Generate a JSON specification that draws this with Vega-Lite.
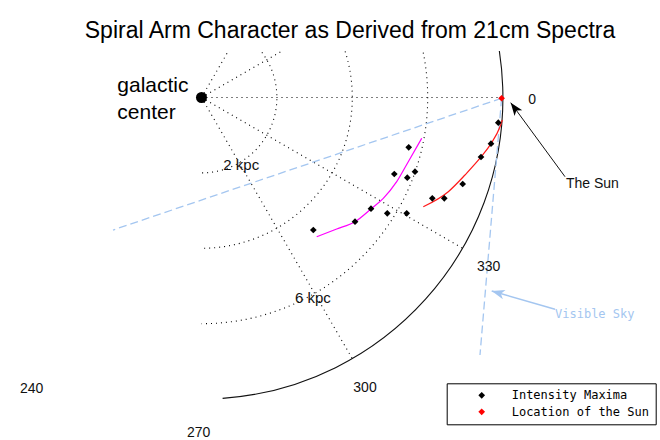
{
  "$schema": "https://vega.github.io/schema/vega-lite/v6.json",
  "width": 660,
  "height": 389,
  "autosize": {"type": "none"},
  "padding": {"left": 0, "top": 51, "right": 0, "bottom": 0},
  "background": "white",
  "config": {"view": {"stroke": null}},
  "title": {
    "text": "Spiral Arm Character as Derived from 21cm Spectra",
    "font": "Liberation Sans",
    "fontSize": 23,
    "fontWeight": "normal",
    "color": "#000",
    "anchor": "middle",
    "dx": 20,
    "baseline": "alphabetic",
    "offset": -10
  },
  "datasets": {
    "grid_arcs": [{"x": 0, "y": 0, "r": 2}, {"x": 0, "y": 0, "r": 4}, {"x": 0, "y": 0, "r": 6}],
    "grid_rays": [
      {"x": 0, "y": 0, "x2": 4, "y2": 6.928},
      {"x": 0, "y": 0, "x2": 6.928, "y2": 4},
      {"x": 0, "y": 0, "x2": 7.96, "y2": 0},
      {"x": 0, "y": 0, "x2": 6.928, "y2": -4},
      {"x": 0, "y": 0, "x2": 4, "y2": -6.928}
    ],
    "solar_circle": [{"x": 0, "y": 0, "r": 8}],
    "sky_lines": [
      {"x": 7.96, "y": -0.02, "x2": -2.347, "y2": -3.515},
      {"x": 7.96, "y": -0.02, "x2": 7.387, "y2": -6.83}
    ],
    "arm_magenta": [
      {"x": 3.056, "y": -3.692},
      {"x": 3.586, "y": -3.488},
      {"x": 4.072, "y": -3.294},
      {"x": 4.515, "y": -2.939},
      {"x": 4.822, "y": -2.674},
      {"x": 5.178, "y": -2.233},
      {"x": 5.485, "y": -1.703},
      {"x": 5.841, "y": -1.082}
    ],
    "arm_red": [
      {"x": 5.883, "y": -2.897},
      {"x": 6.546, "y": -2.499},
      {"x": 6.989, "y": -2.056},
      {"x": 7.414, "y": -1.578},
      {"x": 7.679, "y": -1.225},
      {"x": 7.918, "y": -0.775},
      {"x": 7.979, "y": -0.597}
    ],
    "maxima": [
      {"x": 2.966, "y": -3.515, "type": "Intensity Maxima"},
      {"x": 4.072, "y": -3.294, "type": "Intensity Maxima"},
      {"x": 4.496, "y": -2.95, "type": "Intensity Maxima"},
      {"x": 4.928, "y": -3.072, "type": "Intensity Maxima"},
      {"x": 5.443, "y": -3.072, "type": "Intensity Maxima"},
      {"x": 5.114, "y": -2.029, "type": "Intensity Maxima"},
      {"x": 5.459, "y": -2.127, "type": "Intensity Maxima"},
      {"x": 5.663, "y": -1.968, "type": "Intensity Maxima"},
      {"x": 5.496, "y": -1.321, "type": "Intensity Maxima"},
      {"x": 6.122, "y": -2.674, "type": "Intensity Maxima"},
      {"x": 6.44, "y": -2.674, "type": "Intensity Maxima"},
      {"x": 6.928, "y": -2.294, "type": "Intensity Maxima"},
      {"x": 7.414, "y": -1.578, "type": "Intensity Maxima"},
      {"x": 7.679, "y": -1.225, "type": "Intensity Maxima"},
      {"x": 7.873, "y": -0.668, "type": "Intensity Maxima"},
      {"x": 7.96, "y": -0.02, "type": "Location of the Sun"}
    ],
    "gc": [{"x": 0, "y": 0}],
    "sun_arrow": [{"x": 9.642, "y": -2.101, "x2": 8.202, "y2": -0.138}],
    "sun_tip": [{"x": 8.202, "y": -0.138}],
    "sky_arrow": [{"x": 9.377, "y": -5.618, "x2": 7.698, "y2": -5.133}],
    "sky_tip": [{"x": 7.698, "y": -5.133}],
    "labels_gc": [{"x": -2.233, "y": 0.138, "t": "galactic"}, {"x": -2.233, "y": -0.578, "t": "center"}],
    "labels_kpc": [{"x": 0.578, "y": -1.923, "t": "2 kpc"}, {"x": 2.48, "y": -5.443, "t": "6 kpc"}],
    "labels_lon": [
      {"x": 8.772, "y": -0.066, "t": "0"},
      {"x": 7.618, "y": -4.496, "t": "330"},
      {"x": 4.337, "y": -7.706, "t": "300"},
      {"x": -0.074, "y": -8.899, "t": "270"},
      {"x": -4.504, "y": -7.74, "t": "240"}
    ],
    "label_sun": [{"x": 9.668, "y": -2.408, "t": "The Sun"}],
    "label_sky": [{"x": 9.377, "y": -5.857, "t": "Visible Sky"}]
  },
  "encoding": {
    "x": {"field": "x", "type": "quantitative", "scale": {"domain": [-5.3448, 12.1618], "nice": false, "zero": false}, "axis": null},
    "y": {"field": "y", "type": "quantitative", "scale": {"domain": [-9.0849, 1.2334], "nice": false, "zero": false}, "axis": null}
  },
  "layer": [
    {
      "data": {"name": "grid_arcs"},
      "mark": {"type": "point", "shape": "M0,-1A1,1,0,0,1,0,1", "filled": false, "stroke": "#000", "strokeWidth": 1.1, "strokeDash": [1, 4], "opacity": 1, "clip": true},
      "encoding": {
        "size": {"field": "r", "type": "quantitative", "scale": {"type": "pow", "exponent": 2, "domain": [0, 8], "range": [0, 363850]}, "legend": null}
      }
    },
    {
      "data": {"name": "grid_rays"},
      "mark": {"type": "rule", "stroke": "#000", "strokeWidth": 1.1, "strokeDash": [1, 4], "clip": true},
      "encoding": {"x2": {"field": "x2"}, "y2": {"field": "y2"}}
    },
    {
      "data": {"name": "solar_circle"},
      "mark": {"type": "point", "shape": "M0,-1A1,1,0,0,1,0.07,0.9975", "filled": false, "stroke": "#111", "strokeWidth": 1.1, "opacity": 1, "clip": true},
      "encoding": {
        "size": {"field": "r", "type": "quantitative", "scale": {"type": "pow", "exponent": 2, "domain": [0, 8], "range": [0, 363850]}, "legend": null}
      }
    },
    {
      "data": {"name": "sky_lines"},
      "mark": {"type": "rule", "stroke": "#a4c6f0", "strokeWidth": 1.3, "strokeDash": [8, 4], "clip": true},
      "encoding": {"x2": {"field": "x2"}, "y2": {"field": "y2"}}
    },
    {
      "data": {"name": "arm_magenta"},
      "mark": {"type": "line", "color": "#ff00ff", "strokeWidth": 1.2, "interpolate": "monotone"},
      "encoding": {}
    },
    {
      "data": {"name": "arm_red"},
      "mark": {"type": "line", "color": "#ff1a1a", "strokeWidth": 1.2, "interpolate": "monotone"},
      "encoding": {}
    },
    {
      "data": {"name": "sun_arrow"},
      "mark": {"type": "rule", "stroke": "#111", "strokeWidth": 1},
      "encoding": {"x2": {"field": "x2"}, "y2": {"field": "y2"}}
    },
    {
      "data": {"name": "sun_tip"},
      "mark": {"type": "point", "shape": "M0,0L0.55,1.5L0,1.1L-0.55,1.5Z", "filled": true, "color": "#000", "opacity": 1, "size": 300, "angle": 323.7}
    },
    {
      "data": {"name": "sky_arrow"},
      "mark": {"type": "rule", "stroke": "#a4c6f0", "strokeWidth": 1.5},
      "encoding": {"x2": {"field": "x2"}, "y2": {"field": "y2"}}
    },
    {
      "data": {"name": "sky_tip"},
      "mark": {"type": "point", "shape": "M0,0L0.55,1.5L0,1.1L-0.55,1.5Z", "filled": true, "color": "#a4c6f0", "opacity": 1, "size": 300, "angle": 286.1}
    },
    {
      "data": {"name": "gc"},
      "mark": {"type": "point", "shape": "circle", "filled": true, "color": "#000", "opacity": 1, "size": 121}
    },
    {
      "data": {"name": "maxima"},
      "mark": {"type": "point", "shape": "diamond", "filled": true, "opacity": 1, "size": 45},
      "encoding": {
        "color": {
          "field": "type",
          "type": "nominal",
          "scale": {"domain": ["Intensity Maxima", "Location of the Sun"], "range": ["#000000", "#ff0000"]},
          "legend": {
            "title": null,
            "orient": "none",
            "legendX": 446.7,
            "legendY": 332.3,
            "strokeColor": "#000",
            "fillColor": "#fff",
            "padding": 6,
            "rowPadding": 4.5,
            "symbolOffset": 23,
            "labelOffset": 24,
            "labelFont": "DejaVu Sans Mono",
            "labelFontSize": 12,
            "labelColor": "#000",
            "symbolType": "diamond",
            "symbolSize": 45,
            "symbolStrokeWidth": 0
          }
        }
      }
    },
    {
      "data": {"name": "labels_gc"},
      "mark": {"type": "text", "font": "Liberation Sans", "fontSize": 21, "align": "left", "baseline": "alphabetic", "color": "#000"},
      "encoding": {"text": {"field": "t"}}
    },
    {
      "data": {"name": "labels_kpc"},
      "mark": {"type": "text", "font": "Liberation Sans", "fontSize": 15, "align": "left", "baseline": "alphabetic", "color": "#111"},
      "encoding": {"text": {"field": "t"}}
    },
    {
      "data": {"name": "labels_lon"},
      "mark": {"type": "text", "font": "Liberation Sans", "fontSize": 14, "align": "center", "baseline": "middle", "color": "#111"},
      "encoding": {"text": {"field": "t"}}
    },
    {
      "data": {"name": "label_sun"},
      "mark": {"type": "text", "font": "Liberation Sans", "fontSize": 14, "align": "left", "baseline": "alphabetic", "color": "#111"},
      "encoding": {"text": {"field": "t"}}
    },
    {
      "data": {"name": "label_sky"},
      "mark": {"type": "text", "font": "DejaVu Sans Mono", "fontSize": 12, "align": "left", "baseline": "alphabetic", "color": "#a4c6f0"},
      "encoding": {"text": {"field": "t"}}
    }
  ]
}
